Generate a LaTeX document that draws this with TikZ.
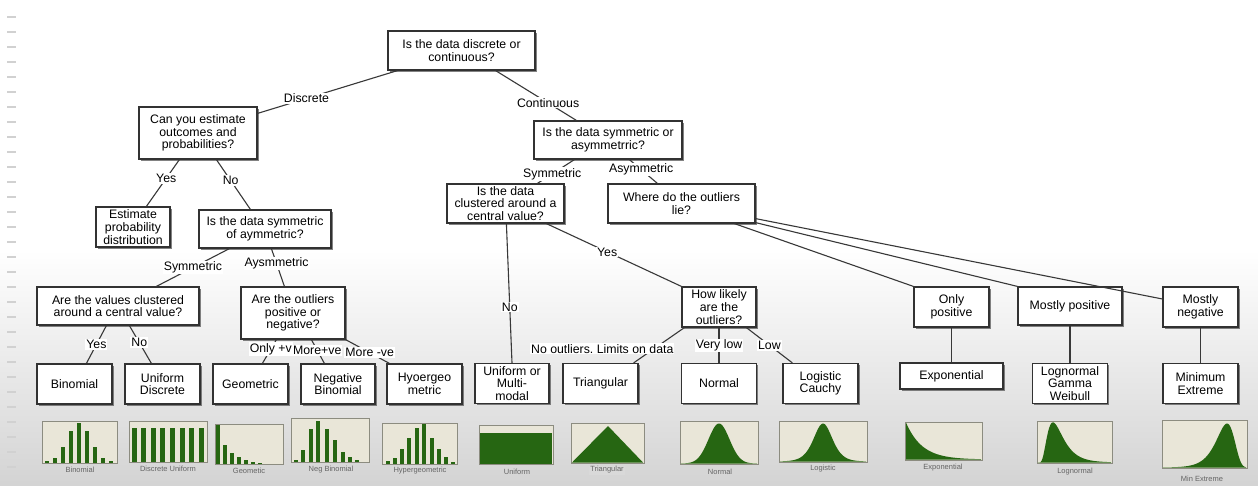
\documentclass[tikz,border=0pt]{standalone}
\usepackage{fontspec}
\setmainfont{Liberation Sans}
\usetikzlibrary{calc,shadows}
\frenchspacing

\definecolor{boxline}{RGB}{50,50,50}
\definecolor{plotbg}{RGB}{233,230,216}
\definecolor{plotline}{RGB}{140,140,128}
\definecolor{plotgreen}{RGB}{38,102,18}
\definecolor{capgray}{RGB}{100,100,100}

\tikzset{every picture/.style={line width=0.75pt}}
\tikzset{
  qbox/.style={draw=boxline, line width=1.2pt, fill=white, align=center, inner sep=1pt,
    font=\fontsize{12.3}{12.6}\selectfont,
    drop shadow={shadow xshift=1.5pt, shadow yshift=-1.6pt, opacity=0.75, fill=black!65}},
  leaf/.style={qbox, minimum width=75pt, minimum height=40pt},
  link/.style={draw=black!78, line width=1.1pt},
  lbl/.style={fill=white, inner sep=1pt, font=\fontsize{12.3}{12.6}\selectfont},
  plotbox/.style={fill=plotbg, draw=plotline, line width=1pt},
  gbar/.style={fill=plotgreen},
  capt/.style={font=\fontsize{7.5}{8}\selectfont, text=capgray, inner sep=1pt},
}

\begin{document}
\begin{tikzpicture}[x=1pt,y=1pt,yscale=-1,xscale=1]
\useasboundingbox (0,0) rectangle (1258,485);

%Background
\fill[white] (0,0) rectangle (1258,485);
\shade[top color=white, bottom color=black!17] (0,250) rectangle (1258,485);
\foreach \y in {17,32,...,467} \draw[black!18, line width=1.2pt] (7,\y) -- (16,\y);

%Question boxes
\node[qbox, minimum width=147pt, minimum height=39pt] (root) at (461.5,50.5) {Is the data discrete or\\continuous?};
\node[qbox, minimum width=118pt, minimum height=52pt] (est) at (198,133) {Can you estimate\\outcomes and\\probabilities?};
\node[leaf, minimum width=74pt] (epd) at (133,227) {Estimate\\probability\\distribution};
\node[qbox, minimum width=132pt, minimum height=38pt] (dsym) at (265,229) {Is the data symmetric\\of aymmetric?};
\node[qbox, minimum width=162pt, minimum height=38pt] (dclust) at (118,306) {Are the values clustered\\around a central value?};
\node[qbox, minimum width=104pt, minimum height=52pt] (dout) at (293,313) {Are the outliers\\positive or\\negative?};
\node[qbox, minimum width=148pt, minimum height=38pt] (csym) at (608,140) {Is the data symmetric or\\asymmetrric?};
\node[qbox, minimum width=117pt, minimum height=39pt] (cclust) at (505.5,203.5) {Is the data\\clustered around a\\central value?};
\node[qbox, minimum width=147pt, minimum height=39pt] (where) at (681.5,203.5) {Where do the outliers\\lie?};
\node[leaf, minimum width=74pt] (likely) at (719,307) {How likely\\are the\\outliers?};
\node[leaf] (onlypos) at (951.5,307) {Only\\positive};
\node[qbox, minimum width=104pt, minimum height=38pt] (mostpos) at (1070,306) {Mostly positive};
\node[leaf] (mostneg) at (1200.5,307) {Mostly\\negative};

%Distribution boxes
\node[leaf] (binom) at (74.5,384) {Binomial};
\node[leaf] (udisc) at (162.5,384) {Uniform\\Discrete};
\node[leaf] (geom) at (250.5,384) {Geometric};
\node[leaf, minimum width=74pt] (negbin) at (338,384) {Negative\\Binomial};
\node[leaf] (hyper) at (424.5,384) {Hyoergeo\\metric};
\node[leaf, minimum width=74pt] (unif) at (512,383.5) {Uniform or\\Multi-\\modal};
\node[leaf] (tri) at (600.5,383.5) {Triangular};
\node[leaf] (normal) at (719,383.5) {Normal};
\node[leaf] (logis) at (820.5,383.5) {Logistic\\Cauchy};
\node[qbox, minimum width=103pt, minimum height=26pt] (expo) at (951.5,376) {Exponential};
\node[leaf] (lgw) at (1070,383.5) {Lognormal\\Gamma\\Weibull};
\node[leaf] (minext) at (1200.5,383.5) {Minimum\\Extreme};

%Straight Lines
\draw[link] ($(root.south west)+(10,0)$) -- node[lbl, pos=0.65] {Discrete} ($(est.north east)+(0,7)$);
\draw[link] ($(root.south east)+(-40,0)$) -- node[lbl, pos=0.65] {Continuous} ($(csym.north west)+(43,0)$);
\draw[link] ($(est.south west)+(41,0)$) -- node[lbl, pos=0.4] {Yes} ($(epd.north west)+(51,0)$);
\draw[link] ($(est.south west)+(78,0)$) -- node[lbl, pos=0.42] {No} ($(dsym.north west)+(52,0)$);
\draw[link] ($(dsym.south west)+(31,0)$) -- node[lbl, pos=0.5] {Symmetric} ($(dclust.north west)+(120,0)$);
\draw[link] ($(dsym.south west)+(73,0)$) -- node[lbl, pos=0.4] {Aysmmetric} ($(dout.north west)+(44,0)$);
\draw[link] ($(dclust.south west)+(70,0)$) -- node[lbl, pos=0.5] {Yes} ($(binom.north west)+(50,0)$);
\draw[link] ($(dclust.south west)+(93,0)$) -- node[lbl, pos=0.45] {No} ($(udisc.north west)+(27,0)$);
\draw[link] ($(dout.south west)+(36,0)$) -- node[lbl, pos=0.4] {Only +v} ($(geom.north west)+(50,0)$);
\draw[link] ($(dout.south west)+(71,0)$) -- node[lbl, pos=0.45] {More+ve} ($(negbin.north west)+(24,0)$);
\draw[link] (dout.south east) -- node[lbl, pos=0.55] {More -ve} ($(hyper.north west)+(3,0)$);
\draw[link] ($(csym.south west)+(41,0)$) -- node[lbl, pos=0.6] {Symmetric} ($(cclust.north west)+(91,0)$);
\draw[link] ($(csym.south west)+(96,0)$) -- node[lbl, pos=0.42] {Asymmetric} ($(where.north west)+(50,0)$);
\draw[link] ($(cclust.south west)+(60,0)$) -- node[lbl, pos=0.6] {No} (unif.north);
\draw[link] ($(cclust.south west)+(100,0)$) -- node[lbl, pos=0.45] {Yes} (likely.north west);
\draw[link] ($(where.south west)+(127,0)$) -- (onlypos.north west);
\draw[link] ($(where.south east)+(0,-1)$) -- (mostpos.north west);
\draw[link] ($(where.south east)+(0,-5)$) -- ($(mostneg.west)+(0,-8)$);
\draw[link] ($(likely.south west)+(3,0)$) -- node[lbl, pos=0.6, anchor=east, xshift=21pt] {No outliers. Limits on data} ($(tri.north east)+(-5,0)$);
\draw[link] (likely.south) -- node[lbl, pos=0.5] {Very low} (normal.north);
\draw[link] ($(likely.south west)+(65,0)$) -- node[lbl, pos=0.5] {Low} ($(logis.north west)+(10,0)$);
\draw[link] (onlypos.south) -- (expo.north);
\draw[link] (mostpos.south) -- (lgw.north);
\draw[link] (mostneg.south) -- (minext.north);

%Plots, discrete
\draw[plotbox] (42,421) rectangle (117,463);
\foreach \x/\t in {47/461,55/458,63/447,71/431,79/423,87/431,95/447,103/458,111/461}
  \fill[gbar] (\x-2,\t) rectangle (\x+2,463);
\draw[plotbox] (129,421) rectangle (207,462);
\foreach \k in {0,...,7}
  \fill[gbar] ({131.5+\k*9.6},428) rectangle ({136.5+\k*9.6},462);
\draw[plotbox] (215,424) rectangle (283,464);
\foreach \x/\t in {218/425,225/445,232/453,239/457,246/460,253/461.5,260/462.5}
  \fill[gbar] (\x-1.8,\t) rectangle (\x+1.8,464);
\draw[plotbox] (291,418) rectangle (369,462);
\foreach \x/\t in {296/460,303/450,311/429,318/421,327/429,335/440,343/452,350/457,357/460}
  \fill[gbar] (\x-2,\t) rectangle (\x+2,462);
\draw[plotbox] (382,423) rectangle (457,464);
\foreach \x/\t in {388/461,395/458,402/449,409/438,417/428,424/424,432/438,439/449,446/457,453/462}
  \fill[gbar] (\x-2,\t) rectangle (\x+2,464);

%Plots, continuous
\draw[plotbox] (479,425) rectangle (553,464);
\fill[plotgreen] (480,433) rectangle (552,463.5);
\draw[plotbox] (571,423) rectangle (644,463);
\fill[plotgreen] (572,462.5) -- (608,426) -- (643,462.5) -- cycle;
\draw[plotbox] (680,421) rectangle (758,464);
\fill[plotgreen] (681,463.5) -- plot[domain=681:757, samples=80] (\x,{463.5-40*exp(-((\x-719)^2)/220)}) -- (757,463.5) -- cycle;
\draw[plotbox] (779,421) rectangle (867,462);
\fill[plotgreen] (780,461.5) -- plot[domain=780:866, samples=80] (\x,{461.5-38*4*exp(-abs(\x-823)/6.3)/((1+exp(-abs(\x-823)/6.3))^2)}) -- (866,461.5) -- cycle;
\draw[plotbox] (905,422) rectangle (982,460);
\fill[plotgreen] (906,459.5) -- plot[domain=906:981, samples=60] (\x,{459.5-37*exp(-(\x-906)/16)}) -- (981,459.5) -- cycle;
\draw[plotbox] (1037,421) rectangle (1112,463);
\fill[plotgreen] (1038,462.5) -- plot[domain=1038:1111, samples=100] (\x,{462.5-40*(16/(\x-1037))*exp(-((ln(\x-1037)-3.02)^2)/0.5)/0.8825}) -- (1111,462.5) -- cycle;
\draw[plotbox] (1162,420) rectangle (1247,468);
\fill[plotgreen] (1163,467.5) -- plot[domain=1163:1246, samples=100] (\x,{467.5-44*exp((\x-1227)/9-exp((\x-1227)/9))/0.3679}) -- (1246,467.5) -- cycle;

% Text Node
\node[capt] (cbinom) at (80,470) {Binomial};
\node[capt] (cdunif) at (168,469) {Discrete Uniform};
\node[capt] (cgeom) at (249,471) {Geometic};
\node[capt] (cnegbin) at (331,470) {Neg Binomial};
\node[capt] (chyper) at (420,471) {Hypergeometric};
\node[capt] (cunif) at (517,472) {Uniform};
\node[capt, fill=black!15] (ctri) at (607,470) {Triangular};
\node[capt] (cnormal) at (720,472) {Normal};
\node[capt] (clogis) at (823,469) {Logistic};
\node[capt] (cexpo) at (943,468) {Exponential};
\node[capt] (clognorm) at (1075,472) {Lognormal};
\node[capt] (cminext) at (1202,479) {Min Extreme};

\end{tikzpicture}
\end{document}
